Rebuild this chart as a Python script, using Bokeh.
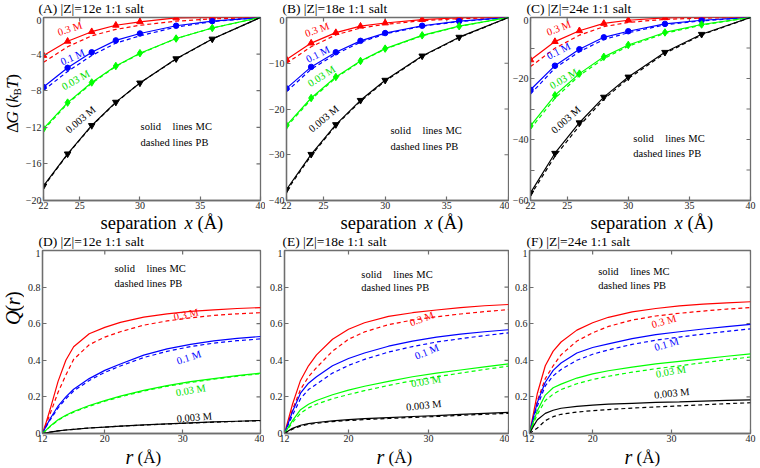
import math
from bokeh.plotting import figure
from bokeh.layouts import row, column
from bokeh.models import Label, FixedTicker, Range1d, CustomJSTickFormatter
from bokeh.embed import file_html
from bokeh.resources import INLINE

# ------------------------------------------------------------------ data
conc = ["0.3 M", "0.1 M", "0.03 M", "0.003 M"]
line_colors = ["#ff0000", "#0000ff", "#00ff00", "#000000"]
text_colors = ["#ff0000", "#0000ff", "#00e000", "#000000"]
markers = ["triangle", "circle", "diamond", "inverted_triangle"]
marker_sizes = [6.5, 5.5, 7.5, 6.5]

# top row: free energy vs separation
separation = [22, 24, 26, 28, 30, 33, 36, 40]

dG12_mc = [[-4.15, -2.6, -1.55, -0.85, -0.47, -0.05, 0.02, 0.0],
           [-7.6, -5.5, -3.8, -2.5, -1.75, -0.9, -0.4, 0.0],
           [-12.15, -9.3, -7.1, -5.3, -3.9, -2.3, -1.15, 0.0],
           [-18.4, -14.9, -11.8, -9.25, -7.15, -4.5, -2.35, 0.0]]
dG12_pb = [[-4.9, -3.2, -2.0, -1.3, -0.85, -0.4, -0.15, 0.0],
           [-7.95, -5.9, -4.15, -2.8, -2.0, -1.05, -0.45, 0.0],
           [-12.3, -9.4, -7.2, -5.35, -3.95, -2.3, -1.15, 0.0],
           [-18.5, -14.95, -11.85, -9.3, -7.15, -4.55, -2.35, 0.0]]

dG18_mc = [[-9.2, -5.6, -3.3, -1.9, -1.2, -0.45, -0.05, 0.0],
           [-15.5, -10.8, -7.6, -5.1, -3.4, -1.8, -0.8, 0.0],
           [-23.6, -17.6, -13.0, -9.5, -6.8, -3.9, -1.9, 0.0],
           [-37.6, -29.9, -23.4, -18.1, -13.7, -8.4, -4.3, 0.0]]
dG18_pb = [[-10.0, -6.4, -3.8, -2.3, -1.5, -0.7, -0.25, 0.0],
           [-16.2, -11.3, -8.0, -5.4, -3.6, -1.9, -0.9, 0.0],
           [-23.9, -17.9, -13.2, -9.6, -6.9, -4.0, -1.95, 0.0],
           [-37.9, -30.2, -23.6, -18.3, -13.9, -8.5, -4.4, 0.0]]

dG24_mc = [[-13.9, -7.9, -4.35, -1.95, -0.9, -0.1, 0.2, 0.0],
           [-23.7, -15.8, -10.4, -6.5, -4.5, -2.1, -0.9, 0.0],
           [-35.5, -25.5, -18.4, -12.9, -9.0, -4.9, -2.3, 0.0],
           [-57.5, -44.5, -34.5, -26.1, -19.5, -11.4, -5.5, 0.0]]
dG24_pb = [[-16.1, -10.1, -5.8, -3.0, -1.6, -0.6, -0.2, 0.0],
           [-25.1, -16.6, -11.2, -7.2, -5.0, -2.4, -1.1, 0.0],
           [-36.5, -26.5, -19.0, -13.5, -9.4, -5.2, -2.5, 0.0],
           [-58.3, -45.5, -35.5, -26.8, -20.0, -11.8, -5.7, 0.0]]

# bottom row: integrated charge Q(r)
r_vals = [12, 12.5, 13, 14, 15, 16, 18, 20, 22, 25, 28, 31, 34, 37, 40]

Q12_mc = [[0, 0.065, 0.135, 0.285, 0.4, 0.474, 0.545, 0.58, 0.607, 0.636, 0.654, 0.667, 0.676, 0.683, 0.688],
          [0, 0.042, 0.082, 0.15, 0.2, 0.242, 0.3, 0.345, 0.38, 0.428, 0.462, 0.487, 0.506, 0.52, 0.53],
          [0, 0.02, 0.041, 0.075, 0.1, 0.12, 0.153, 0.18, 0.204, 0.236, 0.262, 0.283, 0.3, 0.316, 0.33],
          [0, 0.004, 0.008, 0.014, 0.019, 0.023, 0.03, 0.035, 0.04, 0.047, 0.053, 0.058, 0.063, 0.067, 0.071]]
Q12_pb = [[0, 0.055, 0.11, 0.225, 0.32, 0.405, 0.485, 0.527, 0.556, 0.592, 0.615, 0.632, 0.645, 0.654, 0.66],
          [0, 0.04, 0.075, 0.14, 0.19, 0.232, 0.29, 0.334, 0.369, 0.415, 0.449, 0.475, 0.494, 0.507, 0.517],
          [0, 0.02, 0.038, 0.072, 0.097, 0.117, 0.149, 0.176, 0.2, 0.232, 0.258, 0.279, 0.297, 0.313, 0.327],
          [0, 0.004, 0.008, 0.014, 0.019, 0.023, 0.03, 0.035, 0.04, 0.046, 0.052, 0.057, 0.062, 0.066, 0.07]]

Q18_mc = [[0, 0.08, 0.16, 0.29, 0.37, 0.43, 0.515, 0.57, 0.605, 0.64, 0.66, 0.675, 0.688, 0.698, 0.705],
          [0, 0.06, 0.12, 0.22, 0.275, 0.31, 0.37, 0.41, 0.44, 0.477, 0.505, 0.527, 0.543, 0.556, 0.567],
          [0, 0.035, 0.07, 0.13, 0.16, 0.18, 0.212, 0.237, 0.258, 0.285, 0.31, 0.33, 0.347, 0.364, 0.38],
          [0, 0.015, 0.028, 0.045, 0.054, 0.06, 0.069, 0.076, 0.081, 0.087, 0.093, 0.098, 0.104, 0.11, 0.115]]
Q18_pb = [[0, 0.065, 0.13, 0.24, 0.31, 0.36, 0.45, 0.515, 0.555, 0.595, 0.62, 0.638, 0.653, 0.666, 0.677],
          [0, 0.05, 0.1, 0.19, 0.24, 0.27, 0.33, 0.372, 0.405, 0.445, 0.475, 0.5, 0.518, 0.535, 0.55],
          [0, 0.03, 0.06, 0.11, 0.14, 0.16, 0.19, 0.213, 0.234, 0.263, 0.288, 0.31, 0.33, 0.35, 0.368],
          [0, 0.012, 0.024, 0.04, 0.05, 0.056, 0.065, 0.071, 0.076, 0.082, 0.088, 0.093, 0.099, 0.105, 0.11]]

Q24_mc = [[0, 0.11, 0.22, 0.37, 0.45, 0.5, 0.565, 0.605, 0.635, 0.665, 0.683, 0.697, 0.707, 0.714, 0.72],
          [0, 0.09, 0.17, 0.28, 0.345, 0.385, 0.44, 0.47, 0.49, 0.518, 0.54, 0.556, 0.571, 0.584, 0.596],
          [0, 0.065, 0.125, 0.21, 0.25, 0.27, 0.303, 0.326, 0.343, 0.363, 0.38, 0.394, 0.408, 0.422, 0.435],
          [0, 0.04, 0.075, 0.11, 0.127, 0.138, 0.148, 0.155, 0.16, 0.165, 0.17, 0.173, 0.177, 0.181, 0.184]]
Q24_pb = [[0, 0.09, 0.18, 0.3, 0.37, 0.43, 0.505, 0.55, 0.585, 0.62, 0.642, 0.657, 0.669, 0.68, 0.688],
          [0, 0.08, 0.15, 0.26, 0.315, 0.35, 0.4, 0.433, 0.457, 0.487, 0.51, 0.527, 0.543, 0.558, 0.572],
          [0, 0.055, 0.105, 0.18, 0.215, 0.24, 0.272, 0.295, 0.313, 0.335, 0.354, 0.37, 0.387, 0.403, 0.418],
          [0, 0.015, 0.03, 0.07, 0.092, 0.105, 0.117, 0.125, 0.131, 0.139, 0.145, 0.151, 0.157, 0.163, 0.168]]

titles_top = ["(A) |Z|=12e 1:1 salt", "(B) |Z|=18e 1:1 salt", "(C) |Z|=24e 1:1 salt"]
titles_bot = ["(D) |Z|=12e 1:1 salt", "(E) |Z|=18e 1:1 salt", "(F) |Z|=24e 1:1 salt"]

sep_ticks = [22, 25, 30, 35, 40]
r_ticks = [12, 20, 30, 40]
q_ticks = [0, 0.2, 0.4, 0.6, 0.8, 1]
dG_ticks = [[0, -4, -8, -12, -16, -20], [0, -10, -20, -30, -40], [0, -20, -40, -60]]
dG_minor = [[], [], [-10, -30, -50]]
dG_lims = [(-20, 0), (-40, 0), (-60, 0)]

# ------------------------------------------------------------------ style
SERIF = "Liberation Serif"
FRAME = "#6e6e6e"
TICKFMT = "return tick < 0 ? '\u2212' + String(-tick) : String(tick);"
TOTAL_W = 760
MID = 0.3375   # distance baseline -> middle of the text box, in em


def label(p, x, y, text, size=10.5, style="normal", color="black", angle=0,
          x_offset=0):
    """(x, y) is the left end of the text baseline; text is anchored at its middle."""
    a = math.radians(angle)
    d = MID * size
    p.add_layout(Label(x=x, y=y, x_units="data", y_units="data", text=text,
                       text_font=SERIF, text_font_size=f"{size}px",
                       text_font_style=style, text_color=color,
                       angle=angle, angle_units="deg",
                       x_offset=x_offset - d * math.sin(a),
                       y_offset=d * math.cos(a),
                       text_align="left", text_baseline="middle"))


def strip(w, h):
    """A text-only figure whose frame is the whole canvas (pixel ranges)."""
    s = figure(width=w, height=h, x_range=Range1d(0, w), y_range=Range1d(0, h),
               output_backend="svg", toolbar_location=None, min_border=0,
               x_axis_location=None, y_axis_location=None)
    s.grid.visible = False
    s.outline_line_color = None
    s.background_fill_color = "white"
    s.border_fill_color = "white"
    return s


def style_axis(ax, ticks, minor, standoff):
    ax.ticker = FixedTicker(ticks=ticks, minor_ticks=minor)
    ax.axis_line_color = FRAME
    ax.axis_line_width = 1.3
    ax.major_tick_line_color = FRAME
    ax.minor_tick_line_color = FRAME
    ax.major_tick_line_width = 1.2
    ax.minor_tick_line_width = 1.2
    ax.major_tick_in = 4
    ax.major_tick_out = 0
    ax.minor_tick_in = 4
    ax.minor_tick_out = 0
    ax.formatter = CustomJSTickFormatter(code=TICKFMT)
    ax.major_label_text_font = SERIF
    ax.major_label_text_font_size = "10px"
    ax.major_label_text_color = "#222222"
    ax.major_label_standoff = standoff


def make_fig(fw, fh, bl, br, bt, bb, xr, yr, xt, yt, ym):
    p = figure(width=bl + fw + br, height=bt + fh + bb,
               x_range=Range1d(*xr), y_range=Range1d(*yr),
               output_backend="svg", toolbar_location=None,
               min_border_left=bl, min_border_right=br,
               min_border_top=bt, min_border_bottom=bb)
    p.grid.visible = False
    p.outline_line_color = FRAME
    p.outline_line_width = 1.3
    p.background_fill_color = "white"
    p.border_fill_color = "white"
    style_axis(p.xaxis[0], xt, [], 1)
    style_axis(p.yaxis[0], yt, ym, 2)
    # mirrored inward ticks on the right and top edges (half of each dash is clipped)
    yall = yt + ym
    p.scatter([xr[1]] * len(yall), yall, marker="dash", size=8,
              line_color=FRAME, line_width=1.2)
    p.scatter(xt, [yr[1]] * len(xt), marker="dash", size=8, angle=90,
              angle_units="deg", line_color=FRAME, line_width=1.2)
    return p


def legend_text(p, x, y, x2, y2):
    label(p, x, y, "solid")
    label(p, x, y, "lines", x_offset=32)
    label(p, x, y, "MC", x_offset=55)
    label(p, x2, y2, "dashed")
    label(p, x2, y2, "lines", x_offset=32)
    label(p, x2, y2, "PB", x_offset=55)


# ------------------------------------------------------------------ top row
top_geom = [(220, 18, 5), (225, 18, 1), (222, 19, 10)]
FH1, BT1, BB1 = 183, 1, 12
dG_mc = [dG12_mc, dG18_mc, dG24_mc]
dG_pb = [dG12_pb, dG18_pb, dG24_pb]
conc_pos_top = [
    [(23.28, -2.02, 18), (23.58, -5.24, 24), (23.72, -7.98, 29), (24.13, -12.7, 40)],
    [(23.62, -4.34, 20), (23.76, -9.97, 27), (23.95, -15.25, 32), (24.1, -25.2, 40)],
    [(23.46, -6.05, 21), (23.51, -13.9, 27), (23.78, -23.6, 30), (24.0, -38.3, 42)],
]
legend_pos_top = [(30.05, -12.3, 30.05, -14.0),
                  (30.43, -25.5, 30.43, -28.9),
                  (30.41, -40.8, 30.41, -45.7)]

top_figs = []
for k in range(3):
    fw, bl, br = top_geom[k]
    p = make_fig(fw, FH1, bl, br, BT1, BB1, (22, 40), dG_lims[k],
                 sep_ticks, dG_ticks[k], dG_minor[k])
    for i in range(4):
        p.line(separation, dG_pb[k][i], line_color=line_colors[i], line_width=1.2,
               line_dash="4 3")
        p.line(separation, dG_mc[k][i], line_color=line_colors[i], line_width=1.2)
        p.scatter(separation[:-1], dG_mc[k][i][:-1], marker=markers[i],
                  size=marker_sizes[i], fill_color=line_colors[i],
                  line_color=line_colors[i])
        cx, cy, ang = conc_pos_top[k][i]
        label(p, cx, cy, conc[i], color=text_colors[i], angle=ang)
    legend_text(p, *legend_pos_top[k])
    top_figs.append(p)

# y-axis title strip for panel A: ΔG (k_B T)
yl1 = strip(22, BT1 + FH1 + BB1)
s0 = 103.5 - 31.3
bx = 18
label(yl1, bx, s0, "Δ", size=17, angle=90)
label(yl1, bx, s0 + 10.4, "G", size=17, style="italic", angle=90)
label(yl1, bx, s0 + 27, "(", size=17, angle=90)
label(yl1, bx, s0 + 32.7, "k", size=17, style="italic", angle=90)
label(yl1, bx + 2.5, s0 + 40.2, "B", size=11, angle=90)
label(yl1, bx, s0 + 47.5, "T", size=17, style="italic", angle=90)
label(yl1, bx, s0 + 57, ")", size=17, angle=90)

# title strip and x-axis-title strip for the top row
ts1 = strip(TOTAL_W, 16)
for k, tx in enumerate([38, 282, 526]):
    label(ts1, tx, 3.3, titles_top[k], size=13.5)
xs1 = strip(TOTAL_W, 21)
for sx in [100, 340, 590]:
    label(xs1, sx, 4.3, "separation", size=18.5)
    label(xs1, sx + 84, 4.3, "x", size=18.5, style="italic")
    label(xs1, sx + 97, 4.3, "(Å)", size=18.5)

# ------------------------------------------------------------------ bottom row
bot_geom = [(220, 16, 4), (224, 20, 1), (221, 20, 10)]
FH2, BT2, BB2 = 183, 1, 12
Q_mc = [Q12_mc, Q18_mc, Q24_mc]
Q_pb = [Q12_pb, Q18_pb, Q24_pb]
conc_pos_bot = [
    [(28.97, 0.617, 12), (29.4, 0.376, 18), (29.2, 0.203, 10), (29.27, 0.06, 5)],
    [(27.83, 0.585, 20), (28.5, 0.403, 22), (27.9, 0.252, 10), (27.25, 0.124, 6)],
    [(27.62, 0.575, 16), (27.96, 0.45, 16), (28.09, 0.305, 10), (27.84, 0.19, 6)],
]
legend_pos_bot = [(21.25, 0.881, 21.25, 0.80),
                  (21.6, 0.851, 21.6, 0.778),
                  (20.7, 0.866, 20.7, 0.792)]

bot_figs = []
for k in range(3):
    fw, bl, br = bot_geom[k]
    p = make_fig(fw, FH2, bl, br, BT2, BB2, (12, 40), (0, 1),
                 r_ticks, q_ticks, [])
    for i in range(4):
        p.line(r_vals, Q_pb[k][i], line_color=line_colors[i], line_width=1.2,
               line_dash="4 3")
        p.line(r_vals, Q_mc[k][i], line_color=line_colors[i], line_width=1.2)
        cx, cy, ang = conc_pos_bot[k][i]
        label(p, cx, cy, conc[i], color=text_colors[i], angle=ang)
    legend_text(p, *legend_pos_bot[k])
    bot_figs.append(p)

# y-axis title strip for panel D: Q(r)
yl2 = strip(24, BT2 + FH2 + BB2)
s0 = 134 - 17.8
bx = 19.5
label(yl2, bx, s0, "Q", size=20, style="italic", angle=90)
label(yl2, bx, s0 + 14.4, "(", size=20, angle=90)
label(yl2, bx, s0 + 21.1, "r", size=20, style="italic", angle=90)
label(yl2, bx, s0 + 28.9, ")", size=20, angle=90)

ts2 = strip(TOTAL_W, 16)
for k, tx in enumerate([38, 282, 526]):
    label(ts2, tx, 3.3, titles_bot[k], size=13.5)
xs2 = strip(TOTAL_W, 23)
for sx in [125, 376, 624]:
    label(xs2, sx, 4.8, "r", size=20, style="italic")
    label(xs2, sx + 12, 4.8, "(Å)", size=17)

layout = column(ts1, row(yl1, *top_figs), xs1,
                ts2, row(yl2, *bot_figs), xs2)
open("out.html", "w").write(file_html(layout, INLINE))
